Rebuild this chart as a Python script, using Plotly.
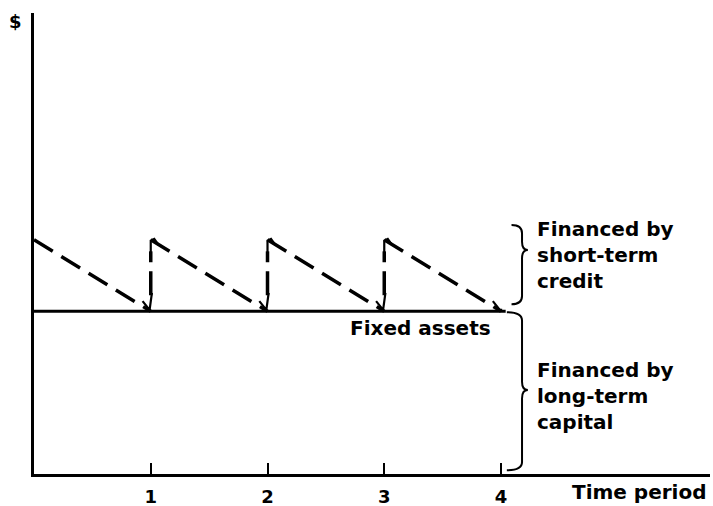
import plotly.graph_objects as go

# ---- data ----
periods = [0, 1, 2, 3, 4]
tick_labels = ["1", "2", "3", "4"]
fixed_assets = 3.53          # level of fixed assets ($)
peak_level = 5.08            # fixed + short-term requirement at start of each period
x_range = [0, 5.79]
y_range = [0, 10]

# ---- sawtooth (current assets financed short-term) ----
saw_x, saw_y = [], []
for i, p in enumerate(periods[:-1]):
    saw_x += [p, periods[i + 1]]
    saw_y += [peak_level, fixed_assets]
    if i < len(periods) - 2:
        saw_x += [None]
        saw_y += [None]
# vertical jumps
jump_x, jump_y = [], []
for p in periods[1:-1]:
    jump_x += [p, p, None]
    jump_y += [fixed_assets + 0.35, peak_level - 0.25, None]

# small hand-drawn hooks at the corners
hook_x, hook_y = [], []
for p in periods[1:]:
    hook_x += [p - 0.07, p - 0.01, p + 0.01, None]
    hook_y += [fixed_assets + 0.22, fixed_assets + 0.03, fixed_assets + (0.4 if p < 4 else 0.03), None]
for p in periods[1:-1]:
    hook_x += [p, p, p + 0.03, p + 0.07, None]
    hook_y += [peak_level - 0.3, peak_level - 0.02, peak_level + 0.02, peak_level - 0.12, None]

fig = go.Figure()
fig.add_trace(go.Scatter(x=[periods[0], periods[-1] + 0.04], y=[fixed_assets, fixed_assets],
                         mode="lines", line=dict(color="black", width=3), hoverinfo="skip"))
fig.add_trace(go.Scatter(x=saw_x, y=saw_y, mode="lines",
                         line=dict(color="black", width=3.5, dash="22px,10px"), hoverinfo="skip"))
fig.add_trace(go.Scatter(x=jump_x, y=jump_y, mode="lines",
                         line=dict(color="black", width=3.5, dash="24px,9px"), hoverinfo="skip"))
fig.add_trace(go.Scatter(x=hook_x, y=hook_y, mode="lines",
                         line=dict(color="black", width=2.2), hoverinfo="skip"))


def brace(xv, y0, y1, ym, w=0.1, tip=0.05, r=0.18):
    return (f"M {xv - w},{y1} Q {xv},{y1} {xv},{y1 - r} "
            f"L {xv},{ym + r} Q {xv},{ym} {xv + tip},{ym} "
            f"Q {xv},{ym} {xv},{ym - r} "
            f"L {xv},{y0 + r} Q {xv},{y0} {xv - w},{y0}")


brace_x = 4.18
fig.add_shape(type="path", path=brace(brace_x, fixed_assets + 0.15, peak_level + 0.32, 4.86, w=0.09),
              line=dict(color="black", width=2))
fig.add_shape(type="path", path=brace(brace_x, 0.08, fixed_assets - 0.02, 1.82, w=0.13),
              line=dict(color="black", width=2))

font = dict(family="DejaVu Sans", size=20, color="black")
fig.add_annotation(x=4.29, y=4.75, text="<b>Financed by<br>short-term<br>credit</b>",
                   showarrow=False, xanchor="left", yanchor="middle", align="left", font=font)
fig.add_annotation(x=4.29, y=1.69, text="<b>Financed by<br>long-term<br>capital</b>",
                   showarrow=False, xanchor="left", yanchor="middle", align="left", font=font)
fig.add_annotation(x=3.93, y=fixed_assets - 0.37, text="<b>Fixed assets</b>",
                   showarrow=False, xanchor="right", yanchor="middle", font=font)
fig.add_annotation(xref="paper", yref="paper", x=0.998, y=-0.039, text="<b>Time period</b>",
                   showarrow=False, xanchor="right", yanchor="middle", font=font)
fig.add_annotation(xref="paper", yref="paper", x=-0.027, y=0.982, text="<b>$</b>", showarrow=False,
                   xanchor="center", yanchor="middle", font=dict(family="DejaVu Sans", size=18, color="black"))

fig.update_layout(
    width=713, height=506,
    margin=dict(l=34, r=3, t=13, b=32, autoexpand=False),
    paper_bgcolor="white", plot_bgcolor="white",
    showlegend=False,
    xaxis=dict(range=x_range, showgrid=False, zeroline=False, showline=True,
               linecolor="black", linewidth=3, ticks="inside", ticklen=11, tickwidth=1.5,
               tickcolor="black", tickvals=periods[1:], ticktext=tick_labels,
               tickfont=dict(family="DejaVu Sans", size=18, color="black", weight="bold"),
               ticklabelstandoff=4, fixedrange=True, automargin=False),
    yaxis=dict(range=y_range, showgrid=False, zeroline=False, showline=True,
               linecolor="black", linewidth=3, showticklabels=False, ticks="",
               fixedrange=True, automargin=False),
)

fig.write_html("out.html", config={"displayModeBar": False},
               post_script="document.body.style.margin='0';document.body.style.overflow='hidden';")
